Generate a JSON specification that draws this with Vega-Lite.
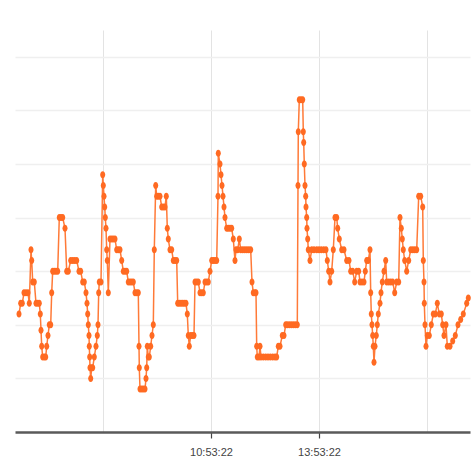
{
  "$schema": "https://vega.github.io/schema/vega-lite/v6.json",
  "autosize": {"type": "none"},
  "width": 455,
  "height": 402,
  "padding": {"left": 15, "top": 30, "right": 4, "bottom": 31},
  "background": "white",
  "config": {"view": {"stroke": null}},
  "data": {"values": [
    {"t":20002,"v":72},{"t":20172,"v":74},{"t":20332,"v":74},{"t":20502,"v":76},{"t":20702,"v":76},{"t":20902,"v":76},{"t":21032,"v":74},{"t":21202,"v":84},{"t":21272,"v":82},{"t":21372,"v":78},
    {"t":21532,"v":78},{"t":21702,"v":74},{"t":21872,"v":74},{"t":22032,"v":74},{"t":22132,"v":72},{"t":22202,"v":69},{"t":22272,"v":66},{"t":22372,"v":64},{"t":22532,"v":64},{"t":22672,"v":64},
    {"t":22772,"v":66},{"t":22902,"v":68},{"t":23032,"v":70},{"t":23172,"v":70},{"t":23272,"v":76},{"t":23372,"v":80},{"t":23532,"v":80},{"t":23702,"v":80},{"t":23872,"v":80},{"t":24032,"v":90},
    {"t":24202,"v":90},{"t":24372,"v":90},{"t":24602,"v":88},{"t":24772,"v":80},{"t":24932,"v":80},{"t":25172,"v":82},{"t":25372,"v":82},{"t":25572,"v":82},{"t":25772,"v":82},{"t":26002,"v":80},
    {"t":26172,"v":80},{"t":26372,"v":78},{"t":26532,"v":78},{"t":26702,"v":76},{"t":26802,"v":74},{"t":26872,"v":72},{"t":26932,"v":70},{"t":27002,"v":68},{"t":27032,"v":66},{"t":27072,"v":64},
    {"t":27102,"v":62},{"t":27172,"v":60},{"t":27272,"v":62},{"t":27372,"v":62},{"t":27532,"v":64},{"t":27702,"v":66},{"t":27832,"v":68},{"t":27902,"v":70},{"t":27972,"v":76},{"t":28032,"v":78},
    {"t":28202,"v":78},{"t":28372,"v":98},{"t":28432,"v":96},{"t":28502,"v":94},{"t":28572,"v":92},{"t":28632,"v":90},{"t":28702,"v":88},{"t":28772,"v":84},{"t":28832,"v":82},{"t":28932,"v":76},
    {"t":29102,"v":86},{"t":29272,"v":86},{"t":29432,"v":86},{"t":29602,"v":86},{"t":29772,"v":84},{"t":29932,"v":84},{"t":30102,"v":84},{"t":30272,"v":82},{"t":30432,"v":80},{"t":30602,"v":80},
    {"t":30772,"v":80},{"t":30932,"v":78},{"t":31102,"v":78},{"t":31272,"v":78},{"t":31432,"v":78},{"t":31602,"v":76},{"t":31772,"v":76},{"t":31932,"v":76},{"t":32002,"v":66},{"t":32032,"v":62},
    {"t":32102,"v":58},{"t":32272,"v":58},{"t":32432,"v":58},{"t":32602,"v":58},{"t":32702,"v":60},{"t":32772,"v":62},{"t":32832,"v":66},{"t":32932,"v":64},{"t":33032,"v":64},{"t":33172,"v":66},
    {"t":33302,"v":68},{"t":33432,"v":70},{"t":33532,"v":84},{"t":33672,"v":96},{"t":33772,"v":94},{"t":33932,"v":94},{"t":34102,"v":94},{"t":34272,"v":92},{"t":34432,"v":92},{"t":34602,"v":92},
    {"t":34732,"v":94},{"t":34832,"v":88},{"t":34932,"v":86},{"t":35102,"v":84},{"t":35272,"v":84},{"t":35432,"v":82},{"t":35602,"v":82},{"t":35772,"v":82},{"t":35872,"v":74},{"t":36032,"v":74},
    {"t":36202,"v":74},{"t":36372,"v":74},{"t":36532,"v":74},{"t":36702,"v":74},{"t":36832,"v":72},{"t":36932,"v":68},{"t":37032,"v":66},{"t":37172,"v":68},{"t":37332,"v":68},{"t":37502,"v":68},
    {"t":37602,"v":78},{"t":37772,"v":78},{"t":37932,"v":78},{"t":38102,"v":76},{"t":38272,"v":76},{"t":38432,"v":76},{"t":38602,"v":78},{"t":38772,"v":78},{"t":38932,"v":78},{"t":39102,"v":80},
    {"t":39272,"v":82},{"t":39432,"v":82},{"t":39602,"v":82},{"t":39772,"v":82},{"t":39902,"v":94},{"t":39932,"v":102},{"t":40102,"v":100},{"t":40202,"v":98},{"t":40302,"v":96},{"t":40402,"v":94},
    {"t":40502,"v":92},{"t":40602,"v":90},{"t":40772,"v":88},{"t":40932,"v":88},{"t":41102,"v":88},{"t":41272,"v":88},{"t":41432,"v":86},{"t":41602,"v":82},{"t":41702,"v":84},{"t":41872,"v":84},
    {"t":42032,"v":86},{"t":42172,"v":84},{"t":42372,"v":84},{"t":42572,"v":84},{"t":42772,"v":84},{"t":42972,"v":84},{"t":43172,"v":84},{"t":43302,"v":78},{"t":43432,"v":76},{"t":43602,"v":76},
    {"t":43702,"v":76},{"t":43772,"v":66},{"t":43832,"v":64},{"t":44002,"v":64},{"t":44102,"v":66},{"t":44202,"v":64},{"t":44432,"v":64},{"t":44672,"v":64},{"t":44902,"v":64},{"t":45132,"v":64},
    {"t":45372,"v":64},{"t":45602,"v":64},{"t":45772,"v":64},{"t":45932,"v":66},{"t":46102,"v":66},{"t":46332,"v":68},{"t":46502,"v":68},{"t":46672,"v":70},{"t":46832,"v":70},{"t":47032,"v":70},
    {"t":47232,"v":70},{"t":47432,"v":70},{"t":47632,"v":70},{"t":47832,"v":70},{"t":47902,"v":96},{"t":47932,"v":106},{"t":48032,"v":112},{"t":48202,"v":112},{"t":48372,"v":112},{"t":48432,"v":106},
    {"t":48472,"v":104},{"t":48532,"v":100},{"t":48602,"v":96},{"t":48672,"v":94},{"t":48702,"v":92},{"t":48772,"v":90},{"t":48802,"v":88},{"t":48872,"v":86},{"t":48932,"v":84},{"t":49102,"v":82},
    {"t":49272,"v":84},{"t":49502,"v":84},{"t":49772,"v":84},{"t":50002,"v":84},{"t":50232,"v":84},{"t":50472,"v":84},{"t":50702,"v":84},{"t":50832,"v":82},{"t":50972,"v":80},{"t":51102,"v":78},
    {"t":51272,"v":80},{"t":51432,"v":84},{"t":51602,"v":90},{"t":51772,"v":90},{"t":51872,"v":88},{"t":52032,"v":86},{"t":52272,"v":84},{"t":52502,"v":84},{"t":52772,"v":82},{"t":53002,"v":82},
    {"t":53172,"v":80},{"t":53372,"v":80},{"t":53572,"v":78},{"t":53772,"v":80},{"t":53972,"v":80},{"t":54102,"v":78},{"t":54302,"v":78},{"t":54502,"v":78},{"t":54632,"v":80},{"t":54772,"v":82},
    {"t":54932,"v":82},{"t":55102,"v":84},{"t":55172,"v":76},{"t":55232,"v":72},{"t":55302,"v":70},{"t":55372,"v":68},{"t":55432,"v":66},{"t":55502,"v":63},{"t":55602,"v":66},{"t":55732,"v":68},
    {"t":55832,"v":70},{"t":55932,"v":72},{"t":56102,"v":74},{"t":56202,"v":76},{"t":56332,"v":78},{"t":56502,"v":80},{"t":56672,"v":82},{"t":56772,"v":78},{"t":56972,"v":78},{"t":57172,"v":78},
    {"t":57372,"v":78},{"t":57572,"v":76},{"t":57772,"v":78},{"t":57972,"v":78},{"t":58102,"v":90},{"t":58232,"v":88},{"t":58332,"v":86},{"t":58432,"v":84},{"t":58572,"v":82},{"t":58772,"v":80},
    {"t":58972,"v":82},{"t":59172,"v":84},{"t":59372,"v":84},{"t":59572,"v":84},{"t":59772,"v":84},{"t":59972,"v":94},{"t":60172,"v":94},{"t":60372,"v":92},{"t":60432,"v":82},{"t":60502,"v":78},
    {"t":60532,"v":74},{"t":60602,"v":70},{"t":60702,"v":66},{"t":60832,"v":68},{"t":61032,"v":68},{"t":61232,"v":70},{"t":61432,"v":72},{"t":61632,"v":72},{"t":61832,"v":74},{"t":62032,"v":72},
    {"t":62232,"v":72},{"t":62372,"v":70},{"t":62502,"v":68},{"t":62702,"v":70},{"t":62832,"v":66},{"t":63102,"v":66},{"t":63372,"v":67},{"t":63632,"v":68},{"t":63902,"v":70},{"t":64172,"v":71},
    {"t":64432,"v":72},{"t":64772,"v":74},{"t":64932,"v":75}
  ]},
  "encoding": {
    "x": {
      "field": "t", "type": "quantitative",
      "scale": {"domain": [19602, 65102], "nice": false, "zero": false},
      "axis": {
        "title": null,
        "values": [28402, 39202, 50002, 60802],
        "labelExpr": "(datum.value == 39202 || datum.value == 50002) ? utcFormat(datum.value * 1000, '%H:%M:%S') : ''",
        "labelFont": "Liberation Sans", "labelFontSize": 11, "labelColor": "#444",
        "labelPadding": 8,
        "grid": true, "gridColor": "#e3e3e3", "gridWidth": 1,
        "domainColor": "#5a5a5a", "domainWidth": 2.5,
        "tickSize": 6, "tickWidth": 1.2,
        "tickColor": {"condition": {"test": "datum.value == 39202 || datum.value == 50002", "value": "#444"}, "value": "transparent"}
      }
    },
    "y": {
      "field": "v", "type": "quantitative",
      "scale": {"domain": [50, 125], "nice": false, "zero": false},
      "axis": {
        "title": null, "values": [60, 70, 80, 90, 100, 110, 120],
        "labels": false, "ticks": false, "domain": false,
        "grid": true, "gridColor": "#efefef", "gridWidth": 1.5
      }
    }
  },
  "layer": [
    {"mark": {"type": "line", "color": "#ff7a38", "strokeWidth": 1.5}},
    {"mark": {"type": "point", "filled": true, "color": "#ff6a22", "size": 49, "opacity": 1, "shape": "M0,-1A0.72,1 0 1,1 0,1A0.72,1 0 1,1 0,-1Z"}}
  ]
}
